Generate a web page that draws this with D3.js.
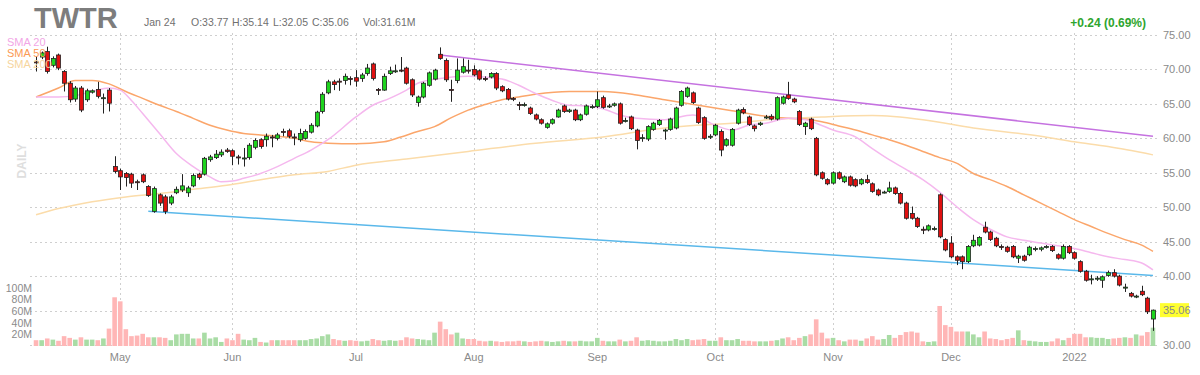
<!DOCTYPE html>
<html><head><meta charset="utf-8">
<script src="https://cdn.jsdelivr.net/npm/d3@7"></script>
<style>
body{margin:0;background:#fff}
svg{display:block}
text{font-family:Arial,"Liberation Sans",sans-serif}
</style>
</head><body>
<svg id="c" width="1200" height="375"></svg>
<script>
// ---------- data ----------
const ticker = "TWTR";
const startDate = "2021-04-12";
const holidays = ["2021-05-31","2021-07-05","2021-09-06","2021-11-25","2021-12-24","2022-01-17"];
const barCount = 200;
const headerDate = "Jan 24";
const headerOHLC = ["O:33.77","H:35.14","L:32.05","C:35.06"];
const headerVol = "Vol:31.61M";
const headerChange = "+0.24 (0.69%)";
const lastPrice = 35.06;

const opens = [71.1,71.8,72.6,70.6,72.1,69.7,68.0,65.7,67.3,65.6,66.7,67.1,65.8,67.0,55.9,55.3,54.9,54.8,53.7,54.7,
53.0,49.4,51.8,51.5,50.6,52.1,52.5,52.1,53.1,54.8,54.8,56.9,57.2,57.6,58.3,58.2,57.3,57.1,57.2,58.7,
59.8,59.8,60.2,60.0,61.0,61.1,60.2,59.8,60.0,60.9,61.8,63.9,66.6,68.2,68.3,68.4,68.7,68.8,68.7,69.4,
70.8,67.1,67.0,69.4,69.7,69.9,70.2,68.5,65.2,66.0,67.7,68.6,72.2,71.3,67.1,68.4,69.6,69.9,70.0,69.8,
68.7,68.9,69.4,67.5,67.1,65.8,64.9,64.9,64.4,63.4,62.7,61.6,62.2,63.1,64.7,63.9,64.1,62.7,63.5,64.6,
64.6,65.9,64.6,64.8,65.0,62.5,63.1,61.2,60.1,59.9,61.3,62.0,61.2,61.3,61.5,64.8,66.1,66.6,64.4,63.0,
60.3,60.5,61.0,59.0,59.0,62.2,64.2,63.1,61.8,62.0,63.1,63.2,62.8,65.1,66.3,65.7,63.9,61.7,62.8,60.0,
55.0,54.0,53.5,55.0,53.7,54.4,54.0,53.4,54.0,53.4,52.5,52.2,52.3,52.8,52.0,50.6,49.1,48.4,46.8,46.7,
46.8,51.8,45.3,44.8,42.8,42.8,42.1,44.4,44.5,47.1,46.4,45.5,44.3,44.2,44.3,42.6,42.9,43.1,44.0,43.9,
44.2,44.3,43.1,42.6,44.3,43.4,42.1,40.7,39.6,39.7,39.4,40.1,40.5,40.0,38.4,37.5,37.0,37.8,36.8,33.77];
const highs = [71.9,72.6,73.3,71.9,72.3,69.9,68.3,67.6,67.6,67.2,67.1,68.2,66.5,67.3,57.4,55.6,55.1,55.0,54.0,54.9,
53.2,53.0,52.0,51.8,51.8,53.0,54.8,53.1,54.9,55.0,57.3,57.6,58.3,58.4,58.6,58.4,57.6,58.6,59.3,60.0,
60.0,60.7,60.5,60.8,61.4,61.4,60.7,61.4,61.3,62.2,64.0,66.7,68.5,68.5,68.7,69.4,69.0,69.9,69.5,70.8,
71.0,67.3,69.4,70.4,70.7,71.8,70.4,68.7,66.2,68.2,69.7,70.1,73.2,71.6,68.5,71.6,71.6,71.4,70.6,70.0,
69.0,69.6,69.6,67.7,67.3,66.0,65.3,65.2,64.6,63.6,62.9,62.3,62.9,64.3,64.9,64.3,64.3,63.6,64.9,64.9,
66.8,66.2,65.0,65.2,65.2,63.0,63.3,61.4,60.6,61.9,62.4,62.8,61.4,63.0,64.6,67.0,67.5,66.8,64.6,63.2,
60.6,62.1,61.3,60.0,61.5,64.3,64.5,63.3,62.0,62.4,63.4,63.5,66.1,66.2,68.2,65.9,64.1,62.4,63.0,60.2,
55.2,54.2,55.2,55.2,54.6,54.6,54.2,54.2,54.7,53.6,52.7,52.4,53.7,53.0,52.2,50.8,50.1,48.6,47.2,47.5,
47.2,52.0,45.5,45.8,43.0,43.0,44.5,46.0,45.8,47.9,46.6,45.7,44.6,44.4,44.5,43.1,43.1,44.4,44.3,44.3,
44.5,44.5,43.3,44.6,44.5,43.6,42.3,40.9,40.2,40.0,40.1,40.8,41.0,40.2,38.9,37.7,37.3,38.6,37.0,35.14];
const lows = [69.7,71.5,69.4,70.3,69.9,66.8,65.2,65.3,63.8,65.3,66.5,65.8,63.6,63.9,54.9,52.5,53.0,52.8,52.5,53.5,
51.5,49.2,50.2,49.0,50.3,51.9,52.2,51.5,52.9,54.0,54.6,56.6,57.0,57.3,57.9,56.1,56.2,55.9,56.9,58.4,
58.5,58.8,58.7,59.7,60.3,60.0,59.0,59.5,59.8,60.7,61.6,63.6,66.4,67.0,66.9,67.8,67.7,67.5,68.2,69.1,
68.4,66.3,66.9,69.2,69.5,69.6,67.8,66.0,64.6,65.8,67.5,68.4,71.4,68.2,65.3,68.0,69.4,69.4,69.0,68.4,
68.3,68.7,67.0,66.7,65.5,65.4,64.1,64.6,63.4,62.6,62.0,61.4,62.0,63.0,63.7,63.7,62.5,62.5,63.3,64.3,
64.4,64.3,64.4,64.6,62.0,62.3,61.2,58.4,59.5,59.6,61.1,61.8,59.8,61.1,61.3,64.6,65.9,65.0,62.1,59.8,
59.9,60.3,57.4,58.8,58.8,62.0,63.5,61.8,61.0,61.8,62.8,62.6,62.6,64.9,65.6,65.1,61.8,60.5,61.2,54.5,
54.0,53.2,53.3,54.0,53.5,53.0,52.9,53.2,53.4,52.1,51.6,52.0,52.1,51.8,50.4,48.2,48.2,47.0,46.1,46.5,
46.6,45.5,43.6,42.6,41.6,41.0,41.9,44.2,44.3,46.2,45.1,44.2,43.8,43.4,42.6,41.9,42.1,42.9,43.6,43.6,
44.0,43.5,42.4,42.4,43.2,42.4,40.5,39.2,38.8,39.3,38.3,39.9,39.8,38.5,37.7,36.9,36.8,37.1,34.5,32.05];
const closes = [71.0,72.4,69.7,71.6,70.2,68.0,65.6,67.3,64.1,66.9,66.9,66.1,65.9,65.1,55.2,54.4,54.3,53.5,53.6,53.7,
51.7,52.7,50.6,49.4,51.5,52.6,53.1,52.8,54.6,54.3,57.1,57.3,57.7,58.0,58.1,57.4,57.2,57.15,59.0,59.7,
58.8,60.3,60.1,60.5,60.9,60.3,60.1,60.7,61.0,61.9,63.8,66.4,68.2,67.8,68.2,69.0,68.6,68.3,69.2,70.2,
68.7,67.0,69.0,69.8,69.8,69.8,68.0,66.3,66.0,68.0,69.5,69.9,71.6,68.5,67.0,69.9,70.4,69.8,69.2,68.6,
68.6,69.4,67.3,66.9,65.7,65.7,64.8,64.9,63.6,62.8,62.2,62.1,62.7,64.1,63.9,64.1,62.7,63.4,64.7,64.6,
65.6,64.5,64.7,65.0,62.2,62.6,61.4,59.7,60.1,61.7,62.2,62.6,61.2,62.8,64.4,66.8,67.3,65.2,62.3,60.0,
60.3,61.9,58.3,59.8,61.3,64.1,63.7,62.0,61.4,62.2,63.1,62.8,65.9,66.0,65.8,65.3,62.0,62.2,61.4,54.7,
54.2,53.4,55.0,54.2,54.4,53.2,53.1,54.0,53.6,52.3,51.8,52.2,52.8,52.0,50.6,48.4,48.4,47.2,46.7,47.3,
46.9,45.7,43.8,42.8,42.3,42.1,44.3,45.2,45.6,46.4,45.3,44.4,44.2,43.6,42.8,42.9,42.3,44.2,44.0,44.1,
44.3,43.7,42.6,44.3,43.4,42.6,40.7,39.4,39.6,39.7,39.9,40.5,40.0,38.7,38.4,37.1,37.1,37.3,34.82,35.06];
const volumes = [10,10,13,11,9,17,14,11,15,11,11,10,13,30,84,77,29,17,18,21,
15,15,15,14,10,20,21,21,13,13,23,13,15,7,13,10,21,11,10,14,
7,6,10,10,10,10,10,10,10,12,13,17,20,12,10,9,10,9,8,9,
12,10,9,10,9,10,15,13,12,11,10,23,42,29,20,23,13,12,12,9,
8,9,8,7,8,8,9,8,7,8,9,8,7,8,9,8,8,9,8,8,
14,9,8,8,11,8,9,15,9,10,9,8,8,9,12,10,12,10,11,12,
9,9,15,10,10,12,9,9,8,8,8,9,10,13,15,10,14,17,20,46,
23,13,14,10,8,11,11,9,13,17,11,12,19,14,19,24,25,23,8,7,
8,69,36,33,25,25,25,20,15,25,13,12,10,12,14,27,10,9,8,7,
7,8,13,10,14,21,21,15,15,14,14,12,13,14,15,14,20,18,24,31.61];

// moving averages: [bar index, value]
const sma20 = [[0,66.0],[4,66.0],[7,66.2],[10,66.8],[13,67.3],[15,67.0],[17,65.5],[19,63.6],[22,60.7],[25,57.8],[28,55.9],[31,54.4],[33,53.7],[35,53.8],[37,54.2],[40,54.9],[43,55.9],[46,57.1],[49,58.3],[52,59.8],[57,63.1],[60,64.8],[63,65.8],[66,67.0],[68,68.0],[72,68.7],[77,69.0],[83,68.6],[86,67.7],[89,66.5],[92,65.5],[95,64.8],[98,64.7],[101,64.3],[104,63.4],[107,62.9],[112,62.7],[117,63.4],[121,61.9],[124,61.2],[127,61.9],[130,62.2],[134,62.9],[137,62.7],[139,62.2],[142,61.2],[146,60.2],[149,58.5],[152,56.9],[155,55.5],[158,54.0],[161,52.2],[164,50.1],[167,48.2],[170,46.8],[173,45.7],[176,45.2],[179,44.8],[182,44.4],[185,44.0],[188,43.4],[191,42.8],[194,42.4],[197,41.9],[199,40.9]];
const sma50 = [[0,66.0],[4,67.3],[7,68.4],[10,68.4],[13,67.9],[16,66.8],[19,65.8],[22,64.8],[25,63.9],[28,62.9],[31,61.9],[34,61.2],[37,60.7],[40,60.5],[43,60.3],[46,60.0],[49,59.5],[52,59.3],[57,59.2],[62,59.5],[65,60.2],[68,61.0],[71,61.7],[74,63.0],[77,64.1],[80,64.9],[83,65.6],[86,66.0],[89,66.4],[95,66.8],[101,66.8],[107,66.3],[112,65.6],[118,64.8],[124,64.0],[130,63.2],[134,62.9],[137,62.8],[140,62.4],[143,61.8],[146,61.2],[149,60.5],[152,59.8],[155,59.0],[158,58.1],[161,57.2],[164,56.4],[167,54.9],[170,54.0],[173,53.0],[176,51.8],[179,50.6],[182,49.4],[185,48.2],[188,47.2],[191,46.2],[194,45.3],[197,44.5],[199,43.6]];
const sma200 = [[0,48.9],[4,49.8],[10,50.8],[16,51.5],[22,52.0],[28,52.6],[34,53.2],[40,54.0],[46,54.7],[52,55.2],[57,56.1],[66,57.0],[77,58.1],[89,59.3],[101,60.2],[112,61.5],[118,61.9],[124,62.2],[132,62.8],[140,63.1],[149,63.3],[158,62.7],[167,61.5],[179,60.3],[185,59.5],[191,58.8],[199,57.6]];
const trendTop = [[72,72.1],[199,60.3]];
const trendBottom = [[20,49.4],[199,40.1]];

const priceTicks = [30,35,40,45,50,55,60,65,70,75];
const volTicks = [20,40,60,80,100];
const smaLabels = ["SMA 20","SMA 50","SMA 200"];

// ---------- build trading dates ----------
const parse = d3.timeParse("%Y-%m-%d"), fmt = d3.timeFormat("%Y-%m-%d");
const hol = new Set(holidays);
const dates = [];
for (let d = parse(startDate); dates.length < barCount; d = d3.timeDay.offset(d, 1)) {
  const wd = d.getDay();
  if (wd === 0 || wd === 6 || hol.has(fmt(d))) continue;
  dates.push(new Date(d));
}
const bars = dates.map((d, i) => ({d, o: opens[i], h: highs[i], l: lows[i], c: closes[i], v: volumes[i]}));

// ---------- scales ----------
const svg = d3.select("#c");
const x = d3.scaleBand().domain(d3.range(barCount)).range([32.5, 1156.5]).padding(0.26);
const xc = i => x(i) + x.bandwidth() / 2;
const y = d3.scaleLinear().domain([30, 75]).range([345, 35]);
const yv = d3.scaleLinear().domain([0, 100]).range([346, 288]);

const gridCol = "#cfcfcf";
svg.append("g").selectAll("line").data(priceTicks).join("line")
  .attr("x1", 30).attr("x2", 1157).attr("y1", d => Math.round(y(d)) + 0.5).attr("y2", d => Math.round(y(d)) + 0.5)
  .attr("stroke", gridCol).attr("stroke-dasharray", "2,3");
const monthIdx = d3.range(1, barCount).filter(i => dates[i].getMonth() !== dates[i - 1].getMonth());
svg.append("g").selectAll("line").data(monthIdx).join("line")
  .attr("x1", d => Math.round(xc(d)) + 0.5).attr("x2", d => Math.round(xc(d)) + 0.5)
  .attr("y1", 33).attr("y2", 347)
  .attr("stroke", gridCol).attr("stroke-dasharray", "2,3");

// volume bars
svg.append("g").selectAll("rect").data(bars).join("rect")
  .attr("x", (d, i) => xc(i) - (x.step() - 1) / 2)
  .attr("width", x.step() - 1)
  .attr("y", d => yv(d.v)).attr("height", d => yv(0) - yv(d.v))
  .attr("fill", d => d.c >= d.o ? "#a9dca5" : "#ffb6b6");

// SMA lines
const line = d3.line().x(d => xc(d[0])).y(d => y(d[1])).curve(d3.curveMonotoneX);
svg.append("path").datum(sma200).attr("d", line).attr("fill", "none").attr("stroke", "#fbdcaa").attr("stroke-width", 1.5);
svg.append("path").datum(sma50).attr("d", line).attr("fill", "none").attr("stroke", "#fba66b").attr("stroke-width", 1.5);
svg.append("path").datum(sma20).attr("d", line).attr("fill", "none").attr("stroke", "#f5b8ee").attr("stroke-width", 1.5);

// trendlines
const tl = d3.line().x(d => xc(d[0])).y(d => y(d[1]));
svg.append("path").datum(trendTop).attr("d", tl).attr("stroke", "#c572e0").attr("stroke-width", 1.5).attr("fill", "none");
svg.append("path").datum(trendBottom).attr("d", tl).attr("stroke", "#5ab8ea").attr("stroke-width", 1.5).attr("fill", "none");

// candles
const cg = svg.append("g");
cg.selectAll("line").data(bars).join("line")
  .attr("x1", (d, i) => Math.round(xc(i)) + 0.5).attr("x2", (d, i) => Math.round(xc(i)) + 0.5)
  .attr("y1", d => y(d.h)).attr("y2", d => y(d.l))
  .attr("stroke", "#222").attr("stroke-width", 1);
cg.selectAll("rect").data(bars).join("rect")
  .attr("x", (d, i) => Math.round(xc(i)) + 0.5 - 2)
  .attr("width", 4)
  .attr("y", d => y(Math.max(d.o, d.c)))
  .attr("height", d => Math.max(1, Math.abs(y(d.o) - y(d.c))))
  .attr("fill", d => d.c >= d.o ? "#1ed41e" : "#e01010")
  .attr("stroke", "#222").attr("stroke-width", 0.8);

// price axis
const pa = svg.append("g").attr("transform", "translate(1157,0)")
  .call(d3.axisRight(y).tickValues(priceTicks.filter(t => Math.abs(t - lastPrice) > 1)).tickFormat(d3.format(".2f")).tickSize(0).tickPadding(6));
pa.select(".domain").remove();
pa.selectAll("text").attr("fill", "#8a8a8a").attr("font-size", 11).attr("font-family", "Arial,'Liberation Sans',sans-serif");

// last price tag
svg.append("rect").attr("x", 1160).attr("y", y(lastPrice) - 7).attr("width", 29).attr("height", 14).attr("fill", "#ffff30");
svg.append("text").attr("x", 1163).attr("y", y(lastPrice) + 4).text(lastPrice.toFixed(2))
  .attr("fill", "#8a8a8a").attr("font-size", 11);

// volume axis
const va = svg.append("g").attr("transform", "translate(33,0)")
  .call(d3.axisLeft(yv).tickValues(volTicks).tickFormat(d => d + "M").tickSize(0).tickPadding(1));
va.select(".domain").remove();
va.selectAll("text").attr("fill", "#8a8a8a").attr("font-size", 10.5).attr("font-family", "Arial,'Liberation Sans',sans-serif");

// x axis labels at month starts
svg.append("g").attr("transform", "translate(0,348)")
  .selectAll("text").data(monthIdx).join("text")
  .attr("x", d => xc(d)).attr("y", 13).attr("text-anchor", "middle")
  .attr("fill", "#8a8a8a").attr("font-size", 11)
  .text(d => dates[d].getMonth() === 0 ? d3.timeFormat("%Y")(dates[d]) : d3.timeFormat("%b")(dates[d]));

// header
svg.append("text").attr("x", 34).attr("y", 28).text(ticker)
  .attr("font-size", 29).attr("font-weight", "bold").attr("fill", "#7d7d7d");
svg.append("text").attr("x", 144).attr("y", 26).text(headerDate).attr("font-size", 10.5).attr("fill", "#707070");
const ohlcX = [191, 232, 273, 312];
headerOHLC.forEach((t, k) => svg.append("text").attr("x", ohlcX[k]).attr("y", 26).text(t).attr("font-size", 10.5).attr("fill", "#707070"));
svg.append("text").attr("x", 363).attr("y", 26).text(headerVol).attr("font-size", 10.5).attr("fill", "#707070");
svg.append("text").attr("x", 1146).attr("y", 27).attr("text-anchor", "end").text(headerChange)
  .attr("font-size", 12).attr("font-weight", "bold").attr("fill", "#2ea52e");

// SMA legend
const smaCols = ["#f2a6e6", "#fb9a55", "#f6d59e"];
smaLabels.forEach((t, k) => svg.append("text").attr("x", 7).attr("y", 46 + k * 11).text(t)
  .attr("font-size", 11).attr("fill", smaCols[k]));

// DAILY label
svg.append("text").attr("transform", "translate(26,161) rotate(-90)").attr("text-anchor", "middle")
  .text("DAILY").attr("font-size", 12).attr("font-weight", "bold").attr("fill", "#dedede");
</script>
</body></html>
